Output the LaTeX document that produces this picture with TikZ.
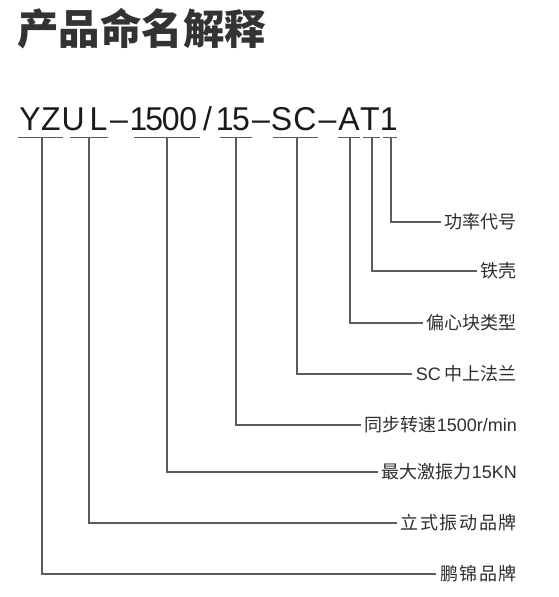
\documentclass[tikz,border=0pt]{standalone}
\usepackage{fontspec}
\setmainfont{Liberation Sans}
\newfontfamily\cjk{Noto Sans CJK SC}
\newcommand\lat[1]{{\rmfamily #1}}
\definecolor{titlec}{HTML}{333333}
\definecolor{codec}{HTML}{1A1A1A}
\definecolor{txt}{HTML}{2E2E2E}
\definecolor{ln}{HTML}{5C5C5C}
\begin{document}
\begin{tikzpicture}[x=1pt,y=-1pt,
  ch/.style={anchor=base,inner sep=0pt,font=\fontsize{33}{33}\selectfont,text=codec,xscale=0.97},
  lab/.style={anchor=east,inner xsep=4pt,inner ysep=0pt,font=\fontsize{18}{18}\selectfont\cjk,text=txt},
  conn/.style={draw=ln,line width=1.1pt},
]
\fill[white] (0,0) rectangle (559,597);
\useasboundingbox (0,0) rectangle (559,597);

% title
\node[anchor=center,inner sep=0pt,font=\fontsize{41.5}{41.5}\selectfont\cjk\bfseries,text=titlec] (title) at (141.5,29) {产品命名解释};

% model code, character by character
\foreach \x/\c [count=\i] in {30/Y,50.8/Z,73.3/U,98.6/L,119/–,138.6/1,154.2/5,170.8/0,188.3/0,207.5/{/},224.7/1,241/5,261/–,281.5/S,305/C,327.5/–,349/A,370/T,388.7/1}
  \node[ch] (c\i) at (\x,130.5) {\c};

% underlines and tick points
\foreach \a/\b/\t [count=\i] in {18/63/42, 70/108/89, 134/200/167, 220/252/236, 273/318/297, 338/360/350, 363/380/372, 383/397/391}{
  \coordinate (ua\i) at (\a,137.7);
  \coordinate (ub\i) at (\b,137.7);
  \coordinate (t\i) at (\t,137.7);
  \draw[conn] (ua\i) -- (ub\i);
}

% labels
\node[lab] (l8) at (521,222) {功率代号};
\node[lab] (l7) at (521,271) {铁壳};
\node[lab] (l6) at (521,323) {偏心块类型};
\node[lab] (l5) at (521,374) {\lat{SC} 中上法兰};
\node[lab] (l4) at (521,425) {同步转速\lat{1500r/min}};
\node[lab] (l3) at (521,472) {最大激振力\lat{15KN}};
\node[lab] (l2) at (521,523) {立\kern1.6pt式\kern1.6pt振\kern1.6pt动\kern1.6pt品\kern1.6pt牌};
\node[lab] (l1) at (521,574) {鹏\kern1.6pt锦\kern1.6pt品\kern1.6pt牌};

% connectors
\foreach \i in {1,...,8}
  \draw[conn] (t\i) |- (l\i.west);
\end{tikzpicture}
\end{document}
